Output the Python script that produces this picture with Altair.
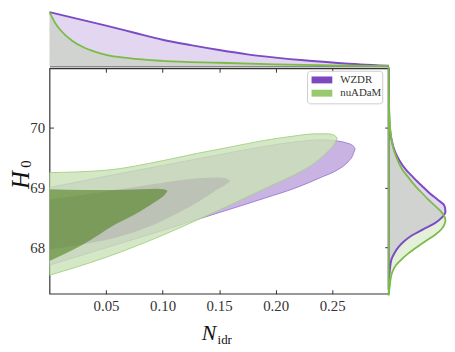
import altair as alt
import pandas as pd

# ---------------- data ----------------
series = ["WZDR", "nuADaM"]
legend_colors = ["#7d47c0", "#98c96e"]
line_colors = ["#7b4bc4", "#7cbb46"]

x_domain = [0.0, 0.30]
y_domain = [67.22, 71.0]
x_tick_values = [0.05, 0.10, 0.15, 0.20, 0.25]
y_tick_values = [68, 69, 70]

# 2D credible regions: N_idr positions with lower / upper H0 edges
wzdr95_x = [0.0, 0.05, 0.10, 0.15, 0.19, 0.22, 0.24, 0.255, 0.264, 0.268, 0.2703]
wzdr95_lo = [67.70, 67.99, 68.28, 68.58, 68.82, 69.01, 69.17, 69.30, 69.43, 69.53, 69.65]
wzdr95_hi = [69.00, 69.19, 69.37, 69.55, 69.69, 69.77, 69.80, 69.78, 69.74, 69.71, 69.65]

wzdr68_x = [0.0, 0.03, 0.058, 0.09, 0.1133, 0.135, 0.147, 0.155, 0.160]
wzdr68_lo = [67.96, 68.05, 68.16, 68.36, 68.57, 68.80, 68.95, 69.04, 69.11]
wzdr68_hi = [68.80, 68.88, 68.96, 69.05, 69.12, 69.16, 69.17, 69.16, 69.11]

nu95_x = [0.0, 0.05, 0.10, 0.13, 0.16, 0.19, 0.215, 0.235, 0.247, 0.2515, 0.2545]
nu95_lo = [67.53, 67.83, 68.20, 68.45, 68.71, 68.98, 69.20, 69.42, 69.62, 69.72, 69.83]
nu95_hi = [69.25, 69.29, 69.45, 69.57, 69.68, 69.79, 69.86, 69.90, 69.90, 69.88, 69.83]

nu68_x = [0.0, 0.03, 0.058, 0.08, 0.095, 0.1015, 0.1045]
nu68_lo = [67.77, 68.05, 68.38, 68.60, 68.78, 68.87, 68.94]
nu68_hi = [68.97, 68.96, 68.96, 68.97, 68.98, 68.97, 68.94]

# 1D marginal of N_idr (normalised to peak 1)
top_n_wzdr = [0.0, 0.025, 0.05, 0.075, 0.10, 0.125, 0.15, 0.175, 0.20, 0.225, 0.25, 0.275, 0.30]
top_p_wzdr = [1.0, 0.875, 0.75, 0.62, 0.49, 0.39, 0.30, 0.22, 0.16, 0.11, 0.07, 0.035, 0.01]
top_n_nu = [0.0, 0.005, 0.01, 0.02, 0.03, 0.04, 0.05, 0.07, 0.10, 0.15, 0.20, 0.25, 0.30]
top_p_nu = [1.0, 0.80, 0.66, 0.47, 0.35, 0.27, 0.21, 0.15, 0.10, 0.065, 0.037, 0.018, 0.006]

# 1D marginal of H0 (normalised to peak 1)
right_h_wzdr = [67.3, 67.5, 67.7, 67.8, 67.9, 68.0, 68.1, 68.2, 68.3, 68.4, 68.5, 68.6, 68.7,
                68.8, 68.9, 69.0, 69.1, 69.2, 69.3, 69.45, 69.6, 69.8, 70.0, 70.3, 70.7, 71.0]
right_p_wzdr = [0.0, 0.01, 0.03, 0.05, 0.10, 0.17, 0.27, 0.41, 0.60, 0.80, 0.93, 0.99, 0.97,
                0.85, 0.72, 0.61, 0.50, 0.40, 0.30, 0.19, 0.11, 0.05, 0.02, 0.006, 0.001, 0.0]
right_h_nu = [67.2, 67.35, 67.5, 67.6, 67.7, 67.8, 67.9, 68.0, 68.1, 68.2, 68.3, 68.4, 68.45,
              68.5, 68.6, 68.7, 68.8, 68.9, 69.0, 69.1, 69.2, 69.3, 69.45, 69.6, 69.8, 70.0,
              70.3, 70.7, 71.0]
right_p_nu = [0.0, 0.02, 0.04, 0.07, 0.13, 0.23, 0.35, 0.49, 0.64, 0.80, 0.92, 0.98, 0.99,
              0.98, 0.91, 0.80, 0.69, 0.59, 0.49, 0.40, 0.32, 0.24, 0.16, 0.10, 0.05, 0.025,
              0.01, 0.003, 0.001]

# ---------------- chart ----------------
FONT = "Liberation Serif"
W_MAIN, H_MAIN = 343, 228
H_TOP, W_RIGHT = 57, 58

xs = alt.Scale(domain=x_domain, nice=False, zero=False)
ys = alt.Scale(domain=y_domain, nice=False, zero=False)

x_axis = alt.Axis(values=x_tick_values, format=".2f", title=None, grid=False, domain=False,
                  tickSize=4, offset=-4, labelPadding=5, tickColor="#333333",
                  labelFont=FONT, labelFontSize=15, labelColor="#333333")
y_axis = alt.Axis(values=y_tick_values, format="d", title=None, grid=False, domain=False,
                  tickSize=4, offset=-4, labelPadding=5, tickColor="#333333",
                  labelFont=FONT, labelFontSize=15, labelColor="#333333")


def contour(xv, lo, hi, fill, opacity, stroke=None):
    df = pd.DataFrame({"x": xv, "lo": lo, "hi": hi})
    kw = dict(fill=fill, fillOpacity=opacity, interpolate="monotone", clip=True)
    if stroke:
        kw.update(stroke=stroke, strokeWidth=1, strokeJoin="round")
    return alt.Chart(df).mark_area(**kw).encode(
        x=alt.X("x:Q", scale=xs, axis=x_axis),
        y=alt.Y("lo:Q", scale=ys, axis=y_axis),
        y2="hi:Q",
    )


one = pd.DataFrame({"a": [0]})

layers = [
    contour(wzdr95_x, wzdr95_lo, wzdr95_hi, "#c9b3e3", 1.0, "#9f82d4"),
    contour(wzdr68_x, wzdr68_lo, wzdr68_hi, "#8246b4", 1.0),
    contour(nu95_x, nu95_lo, nu95_hi, "#cae2b6", 0.8, "#a9d28c"),
    contour(nu68_x, nu68_lo, nu68_hi, "#50801e", 0.6),
]

# legend box
layers.append(
    alt.Chart(one).mark_rect(fill="white", fillOpacity=0.9, stroke="#cccccc",
                             strokeWidth=1, cornerRadius=3).encode(
        x=alt.value(261), x2=alt.value(337), y=alt.value(3), y2=alt.value(36))
)
for i, (name, col) in enumerate(zip(series, legend_colors)):
    y0 = 8.3 + i * 13.4
    layers.append(
        alt.Chart(one).mark_rect(fill=col).encode(
            x=alt.value(265), x2=alt.value(286), y=alt.value(y0), y2=alt.value(y0 + 7))
    )
    layers.append(
        alt.Chart(one).mark_text(text=name, font=FONT, fontSize=11, align="left",
                                 baseline="middle", color="#333333").encode(
            x=alt.value(294), y=alt.value(y0 + 3.8))
    )

# axis titles (math style)
layers += [
    alt.Chart(one).mark_text(text="N", font=FONT, fontStyle="italic", fontSize=22,
                             align="left", baseline="alphabetic", color="#111111").encode(
        x=alt.value(154), y=alt.value(275)),
    alt.Chart(one).mark_text(text="idr", font=FONT, fontSize=13, align="left",
                             baseline="alphabetic", color="#111111").encode(
        x=alt.value(170), y=alt.value(279)),
    alt.Chart(one).mark_text(text="H", font=FONT, fontStyle="italic", fontSize=25, angle=270,
                             align="center", baseline="alphabetic", color="#111111").encode(
        x=alt.value(-20.6), y=alt.value(113)),
    alt.Chart(one).mark_text(text="0", font=FONT, fontSize=15, angle=270,
                             align="center", baseline="alphabetic", color="#111111").encode(
        x=alt.value(-18.6), y=alt.value(97)),
]

main_core = alt.layer(*layers)

tick_df = pd.DataFrame({"x": [0.1], "y": [69.0]})
mirror_ticks = alt.Chart(tick_df).mark_point(opacity=0).encode(
    x=alt.X("x:Q", scale=xs, axis=alt.Axis(orient="top", values=x_tick_values, labels=False,
                                           domain=False, grid=False, tickSize=4, offset=-4,
                                           title=None, tickColor="#333333", minExtent=0)),
    y=alt.Y("y:Q", scale=ys, axis=alt.Axis(orient="right", values=y_tick_values, labels=False,
                                           domain=False, grid=False, tickSize=4, offset=-4,
                                           title=None, tickColor="#333333", minExtent=0)),
)

main = alt.layer(main_core, mirror_ticks).resolve_scale(
    x="independent", y="independent"
).properties(width=W_MAIN, height=H_MAIN,
             view=alt.ViewBackground(stroke="#333333", strokeWidth=1.2))

# top marginal
top_w = pd.DataFrame({"n": top_n_wzdr, "p": top_p_wzdr})
top_nu = pd.DataFrame({"n": top_n_nu, "p": top_p_nu})
ts = alt.Scale(domain=[0, 1.04], nice=False)
top_axis = alt.Axis(domain=True, ticks=False, labels=False, grid=False, title=None,
                    domainColor="#333333", minExtent=0)


def top_area(df, fill, op):
    return alt.Chart(df).mark_area(fill=fill, fillOpacity=op, interpolate="monotone").encode(
        x=alt.X("n:Q", scale=xs, axis=top_axis), y=alt.Y("p:Q", scale=ts, axis=None))


def top_line(df, col, w):
    return alt.Chart(df).mark_line(color=col, strokeWidth=w, interpolate="monotone",
                                   strokeJoin="round").encode(
        x=alt.X("n:Q", scale=xs, axis=top_axis), y=alt.Y("p:Q", scale=ts, axis=None))


top = alt.layer(
    top_area(top_w, "#e2d6f0", 1.0),
    top_area(top_nu, "#a5cd84", 0.3),
    top_line(top_w, line_colors[0], 2),
    top_line(top_nu, line_colors[1], 1.8),
).properties(width=W_MAIN, height=H_TOP)

# right marginal
r_w = pd.DataFrame({"h": right_h_wzdr, "p": right_p_wzdr})
r_nu = pd.DataFrame({"h": right_h_nu, "p": right_p_nu})
rs = alt.Scale(domain=[0, 1.0], nice=False)


def right_area(df, fill, op, stroke=None, w=1):
    kw = dict(orient="horizontal", interpolate="monotone", fill=fill, fillOpacity=op)
    if stroke:
        kw.update(stroke=stroke, strokeWidth=w, strokeJoin="round")
    return alt.Chart(df).mark_area(**kw).encode(
        y=alt.Y("h:Q", scale=ys, axis=None), x=alt.X("p:Q", scale=rs, axis=None))


right = alt.layer(
    right_area(r_w, "#e2d6f0", 1.0),
    right_area(r_nu, "#a5cd84", 0.3),
    right_area(r_w, "#ffffff", 0.0, line_colors[0], 2),
    right_area(r_nu, "#ffffff", 0.0, line_colors[1], 1.8),
).properties(width=W_RIGHT, height=H_MAIN)

empty = alt.Chart(one).mark_point(opacity=0, size=1).encode(
    x=alt.X("a:Q", axis=None), y=alt.Y("a:Q", axis=None)
).properties(width=W_RIGHT, height=H_TOP)

chart = alt.concat(
    top, empty, main, right, columns=2, spacing={"row": 2, "column": 0}, bounds="flush"
).properties(padding=0, background="white").configure_view(stroke=None)

chart.save("out.html", embed_options={"renderer": "svg", "actions": False})
